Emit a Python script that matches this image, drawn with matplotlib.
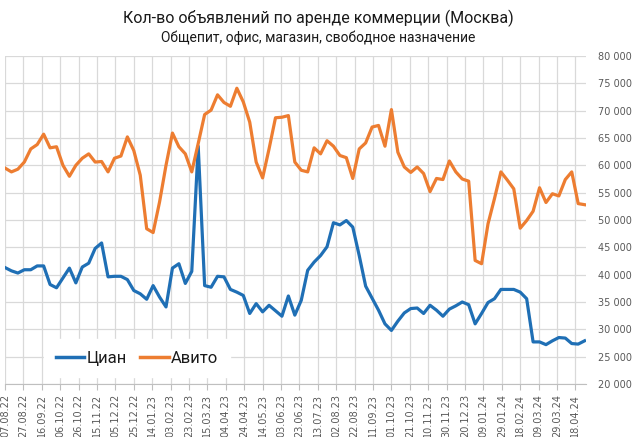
import matplotlib
matplotlib.use('Agg')
import matplotlib.pyplot as plt
from matplotlib.ticker import FuncFormatter, MultipleLocator
import pandas as pd

# weekly data, 07.08.22 .. 28.04.24 (thousands of listings)
dates = pd.date_range('2022-08-07', periods=91, freq='7D')

cian = [41.3, 40.7, 40.3, 40.9, 40.9, 41.6, 41.6, 38.2, 37.6, 39.4,
        41.2, 38.5, 41.4, 42.1, 44.8, 45.8, 39.6, 39.7, 39.7, 39.1,
        37.1, 36.5, 35.5, 38.0, 35.9, 34.1, 41.2, 42.0, 38.4, 40.6,
        63.5, 38.0, 37.7, 39.7, 39.6, 37.3, 36.8, 36.2, 32.9, 34.7,
        33.2, 34.4, 33.4, 32.4, 36.1, 32.6, 35.3, 40.8, 42.3, 43.5,
        45.1, 49.5, 49.1, 49.9, 48.7, 43.5, 37.9, 35.7, 33.5, 31.0,
        29.8, 31.5, 33.0, 33.8, 33.9, 32.9, 34.4, 33.5, 32.4, 33.7,
        34.3, 35.0, 34.5, 31.0, 32.9, 34.9, 35.6, 37.3, 37.3, 37.3,
        36.8, 35.6, 27.7, 27.7, 27.2, 27.9, 28.5, 28.4, 27.4, 27.3,
        27.9]

avito = [59.5, 58.8, 59.3, 60.6, 63.0, 63.8, 65.7, 63.2, 63.4, 60.0,
         58.0, 60.0, 61.3, 62.1, 60.6, 60.7, 58.8, 61.3, 61.7, 65.2,
         62.7, 58.2, 48.4, 47.7, 53.3, 60.0, 65.9, 63.4, 62.1, 58.8,
         64.0, 69.3, 70.1, 72.9, 71.5, 70.8, 74.1, 71.6, 67.9, 60.6,
         57.7, 63.0, 68.7, 68.8, 69.1, 60.6, 59.1, 58.8, 63.2, 62.1,
         64.5, 63.5, 61.8, 61.4, 57.6, 63.0, 64.1, 67.0, 67.3, 63.5,
         70.2, 62.4, 59.7, 58.7, 59.7, 58.5, 55.2, 57.6, 57.4, 60.8,
         58.8, 57.5, 57.1, 42.6, 42.0, 49.3, 53.9, 58.8, 57.3, 55.7,
         48.5, 49.9, 51.6, 55.9, 53.2, 54.8, 54.4, 57.4, 58.8, 53.0,
         52.8]

cian = [v * 1000 for v in cian]
avito = [v * 1000 for v in avito]

tick_dates = pd.date_range('2022-08-07', '2024-04-18', freq='20D')
tick_labels = [d.strftime('%d.%m.%y') for d in tick_dates]

fig = plt.figure(figsize=(6.37, 4.37), dpi=100)
ax = fig.add_axes([5/637, 53/437, 581/637, 328/437])

ax.plot(dates, cian, color='#1f6fb5', lw=2.3, label='Циан', solid_joinstyle='round')
ax.plot(dates, avito, color='#ed7d31', lw=2.3, label='Авито', solid_joinstyle='round')

ax.set_xlim(dates[0], dates[0] + pd.Timedelta(days=631.5))
ax.set_ylim(20000, 80000)

ax.set_xticks(tick_dates)
ax.set_xticklabels(tick_labels, rotation=90, fontsize=7, color='#595959')
ax.yaxis.set_major_locator(MultipleLocator(5000))
ax.yaxis.set_major_formatter(FuncFormatter(lambda v, p: f'{v:,.0f}'.replace(',', ' ')))
ax.yaxis.tick_right()
ax.tick_params(axis='y', length=0, pad=9, labelsize=7, labelcolor='#595959')
ax.tick_params(axis='x', length=4, color='#bfbfbf', pad=3)

ax.grid(True, color='#d9d9d9', lw=0.9)
ax.set_axisbelow(True)
for s in ['top', 'left', 'right']:
    ax.spines[s].set_visible(False)
ax.spines['bottom'].set_color('#bfbfbf')

leg = ax.legend(loc='center left', bbox_to_anchor=(0.053, 0.079), ncol=2,
                prop={'family': 'Roboto', 'size': 12},
                frameon=True, framealpha=1, edgecolor='white', fancybox=False,
                handlelength=1.7, handletextpad=0.15, columnspacing=0.8, borderpad=0.7)
for line in leg.get_lines():
    line.set_linewidth(2.5)
for t in leg.get_texts():
    t.set_color('#1a1a1a')

fig.text(0.5, 0.958, 'Кол-во объявлений по аренде коммерции (Москва)',
         ha='center', va='center', fontsize=11.5, family='Roboto', color='#1a1a1a')
fig.text(0.5, 0.913, 'Общепит, офис, магазин, свободное назначение',
         ha='center', va='center', fontsize=10, family='Roboto', color='#1a1a1a')

fig.savefig('out.png', dpi=100)
